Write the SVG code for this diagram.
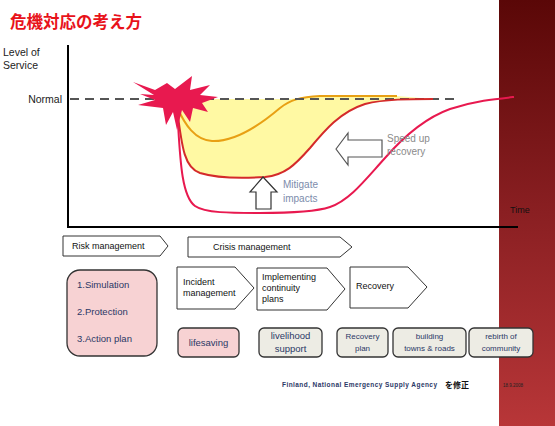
<svg xmlns="http://www.w3.org/2000/svg" width="555" height="426" viewBox="0 0 555 426">
<defs>
<linearGradient id="band" x1="0" y1="0" x2="0" y2="1">
<stop offset="0" stop-color="#5a0707"/>
<stop offset="0.5" stop-color="#8a1f22"/>
<stop offset="1" stop-color="#b83638"/>
</linearGradient>
<style>
text{font-family:"Liberation Sans",Arial,sans-serif}
.lbl{font-size:9px;fill:#111}
.side{font-size:10.5px;fill:#222}
.ph{fill:#fff;stroke:#333;stroke-width:1}
.pk{fill:#f7d2d3;stroke:#333;stroke-width:1.3}
.gy{fill:#edece4;stroke:#333;stroke-width:1.3}
.nv{font-size:9.5px;fill:#2b3866}
.sm{font-size:8px;fill:#2b3866;text-anchor:middle}
.md{font-size:9.5px;fill:#2b3866;text-anchor:middle}
.hint{font-size:10px}
</style>
</defs>
<rect width="555" height="426" fill="#fff"/>
<rect x="499" y="0" width="56" height="426" fill="url(#band)"/>

<text x="10" y="28" font-size="16.5" font-weight="bold" fill="#e8121a" style="font-family:'Noto Sans CJK JP',sans-serif">危機対応の考え方</text>

<g id="axes">
<text class="side" x="3" y="56">Level of</text>
<text class="side" x="3" y="69">Service</text>
<text class="side" x="62" y="103" text-anchor="end">Normal</text>
<text x="510" y="213" font-size="9" fill="#111">Time</text>
<path d="M68,45 V227 H518" fill="none" stroke="#000" stroke-width="2"/>
</g>

<g id="chart">
<path d="M177,108 C182,150 185,168 200,173 C220,179 250,178 265,177 C285,175 295,165 310,148 C325,130 340,112 365,104 C385,99 410,99 433,99 L397,96 L320,96 L290,99 L180,99 Z" fill="#fff9a3"/>
<path d="M177,107 C185,125 195,140 212,141 C235,142 260,125 280,108 C290,100 300,97 320,96 L397,96" fill="none" stroke="#e8a014" stroke-width="2"/>
<path d="M70,99 H460" fill="none" stroke="#555" stroke-width="2" stroke-dasharray="9,6"/>
<path d="M177,108 C182,150 185,168 200,173 C220,179 250,178 265,177 C285,175 295,165 310,148 C325,130 340,112 365,104 C385,99 410,99 433,99" fill="none" stroke="#d42a2a" stroke-width="2"/>
<path d="M177,108 C180,150 180,195 195,206 C205,213 230,213 260,213 C290,213 315,212 330,207 C350,200 365,180 385,158 C405,135 425,118 450,109 C475,101 495,99 514,97" fill="none" stroke="#e8194f" stroke-width="2"/>
<polygon id="burst" points="133,82 155,90 167,83 175,89 192,76 190,90 210,85 200,95 218,97 202,103 208,112 193,108 190,122 182,110 177,130 173,112 166,125 163,108 138,105 155,100 140,94 154,95" fill="#e8194f"/>
</g>

<g id="mitigate">
<path d="M263,177 L277,192 L271,192 L271,209 L256,209 L256,192 L250,192 Z" fill="#fff" stroke="#333" stroke-width="1.2"/>
<text class="hint" x="283" y="188" fill="#7d8cab">Mitigate</text>
<text class="hint" x="283" y="202" fill="#7d8cab">impacts</text>
</g>

<g id="speedup">
<path d="M336,149 L348,133 L348,140 L382,140 L382,157 L348,157 L348,165 Z" fill="#fff" stroke="#555" stroke-width="1.2"/>
<text class="hint" x="387" y="142" fill="#8a8a8a">Speed up</text>
<text class="hint" x="387" y="155" fill="#8a8a8a">recovery</text>
</g>

<g id="risk">
<path class="ph" d="M63,236 H160 L168,246 L160,256 H63 Z"/>
<text class="lbl" x="72" y="249">Risk management</text>
</g>
<g id="crisis">
<path class="ph" d="M188,237 H340 L352,247 L340,257 H188 Z"/>
<text class="lbl" x="213" y="250">Crisis management</text>
</g>

<g id="riskbox">
<rect class="pk" x="67" y="270" width="90" height="86" rx="13"/>
<text class="nv" x="77" y="288">1.Simulation</text>
<text class="nv" x="77" y="315">2.Protection</text>
<text class="nv" x="77" y="342">3.Action plan</text>
</g>

<g id="incident">
<path class="ph" d="M177,267 H235 L254,288 L235,309 H177 Z"/>
<text class="lbl" x="183" y="285">Incident</text>
<text class="lbl" x="183" y="296">management</text>
</g>
<g id="implementing">
<path class="ph" d="M257,268 H327 L345,289 L327,310 H257 Z"/>
<text class="lbl" x="262" y="280">Implementing</text>
<text class="lbl" x="262" y="291">continuity</text>
<text class="lbl" x="262" y="302">plans</text>
</g>
<g id="recovery">
<path class="ph" d="M350,267 H408 L427,287 L408,308 H350 Z"/>
<text class="lbl" x="356" y="289">Recovery</text>
</g>

<g id="lifesaving">
<rect class="pk" x="178" y="328" width="61" height="29" rx="5"/>
<text class="md" x="208.5" y="346">lifesaving</text>
</g>
<g id="livelihood">
<rect class="gy" x="259" y="328" width="63" height="29" rx="5"/>
<text class="md" x="290.5" y="339">livelihood</text>
<text class="md" x="290.5" y="352">support</text>
</g>
<g id="recplan">
<rect class="gy" x="337" y="328" width="51" height="29" rx="5"/>
<text class="sm" x="362.5" y="339">Recovery</text>
<text class="sm" x="362.5" y="351">plan</text>
</g>
<g id="building">
<rect class="gy" x="393" y="328" width="73" height="29" rx="5"/>
<text class="sm" x="429.5" y="339">building</text>
<text class="sm" x="429.5" y="351">towns &amp; roads</text>
</g>
<g id="rebirth">
<rect class="gy" x="469" y="328" width="64" height="29" rx="5"/>
<text class="sm" x="501" y="339">rebirth of</text>
<text class="sm" x="501" y="351">community</text>
</g>

<g id="footer">
<text x="282" y="387" font-size="6.5" font-weight="bold" fill="#2b3866" textLength="155" lengthAdjust="spacing">Finland, National Emergency  Supply Agency</text>
<text x="445" y="388" font-size="8" font-weight="bold" fill="#111" style="font-family:'Noto Sans CJK JP',sans-serif">を修正</text>
<text x="503" y="387" font-size="4.5" fill="#222">18.9.2008</text>
</g>
</svg>
